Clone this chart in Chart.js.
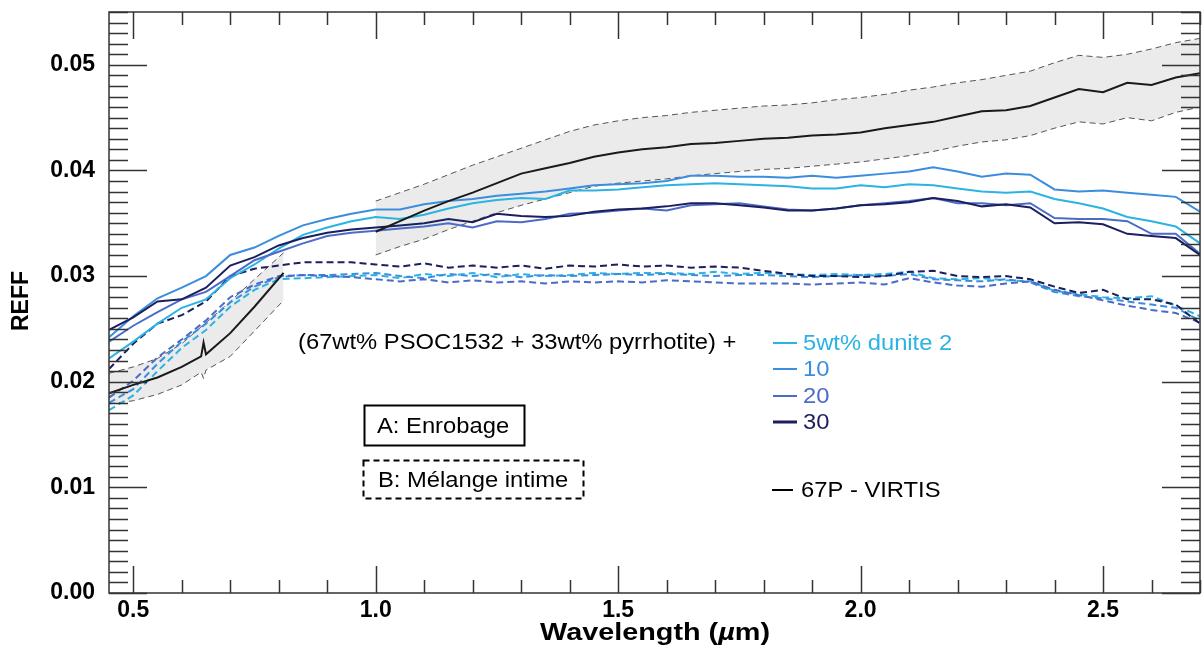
<!DOCTYPE html>
<html>
<head>
<meta charset="utf-8">
<script src="https://cdn.jsdelivr.net/npm/chart.js@4.4.1/dist/chart.umd.min.js"></script>
<style>
  html, body { margin: 0; padding: 0; background: #fff; }
</style>
</head>
<body>
<canvas id="reffChart" width="1204" height="651"></canvas>
<script>
// lab spectra grid (µm)
const wavelengths = [0.45, 0.50, 0.55, 0.60, 0.65, 0.70, 0.75, 0.80, 0.85, 0.90,
  0.95, 1.00, 1.05, 1.10, 1.15, 1.20, 1.25, 1.30, 1.35, 1.40,
  1.45, 1.50, 1.55, 1.60, 1.65, 1.70, 1.75, 1.80, 1.85, 1.90,
  1.95, 2.00, 2.05, 2.10, 2.15, 2.20, 2.25, 2.30, 2.35, 2.40,
  2.45, 2.50, 2.55, 2.60, 2.65, 2.70];

// A: Enrobage (solid)
const coat5 = [0.0222, 0.0238, 0.0255, 0.0270, 0.0278, 0.0298, 0.0311, 0.0326, 0.0339, 0.0346,
  0.0352, 0.0356, 0.0354, 0.0358, 0.0364, 0.0369, 0.0372, 0.0374, 0.0373, 0.0381,
  0.0381, 0.0382, 0.0384, 0.0386, 0.0387, 0.0388, 0.0387, 0.0386, 0.0385, 0.0383,
  0.0383, 0.0386, 0.0384, 0.0387, 0.0386, 0.0383, 0.0380, 0.0379, 0.0380, 0.0373,
  0.0369, 0.0364, 0.0356, 0.0352, 0.0347, 0.0331];
const coat10 = [0.0242, 0.0262, 0.0279, 0.0289, 0.0300, 0.0320, 0.0327, 0.0338, 0.0348, 0.0354,
  0.0359, 0.0363, 0.0363, 0.0368, 0.0371, 0.0373, 0.0376, 0.0378, 0.0380, 0.0383,
  0.0386, 0.0387, 0.0388, 0.0390, 0.0395, 0.0395, 0.0394, 0.0394, 0.0393, 0.0395,
  0.0393, 0.0395, 0.0397, 0.0399, 0.0403, 0.0399, 0.0394, 0.0397, 0.0396, 0.0382,
  0.0380, 0.0381, 0.0379, 0.0377, 0.0375, 0.0361];
const coat20 = [0.0238, 0.0253, 0.0266, 0.0278, 0.0285, 0.0300, 0.0315, 0.0323, 0.0331, 0.0338,
  0.0341, 0.0343, 0.0345, 0.0347, 0.0350, 0.0346, 0.0352, 0.0351, 0.0354, 0.0359,
  0.0360, 0.0362, 0.0364, 0.0362, 0.0367, 0.0368, 0.0369, 0.0366, 0.0363, 0.0362,
  0.0364, 0.0367, 0.0369, 0.0371, 0.0374, 0.0369, 0.0369, 0.0367, 0.0369, 0.0355,
  0.0354, 0.0354, 0.0352, 0.0340, 0.0340, 0.0321];
const coat30 = [0.0249, 0.0261, 0.0276, 0.0278, 0.0289, 0.0310, 0.0318, 0.0329, 0.0336, 0.0341,
  0.0344, 0.0346, 0.0348, 0.0350, 0.0354, 0.0351, 0.0359, 0.0357, 0.0356, 0.0357,
  0.0361, 0.0363, 0.0364, 0.0366, 0.0369, 0.0369, 0.0367, 0.0365, 0.0362, 0.0362,
  0.0364, 0.0367, 0.0368, 0.0370, 0.0374, 0.0371, 0.0366, 0.0368, 0.0365, 0.0350,
  0.0351, 0.0349, 0.0340, 0.0338, 0.0336, 0.0320];

// B: Mélange intime (dashed)
const mix5 = [0.0173, 0.0187, 0.0210, 0.0232, 0.0249, 0.0271, 0.0287, 0.0297, 0.0298, 0.0299,
  0.0300, 0.0301, 0.0298, 0.0302, 0.0300, 0.0303, 0.0299, 0.0302, 0.0300, 0.0301,
  0.0303, 0.0302, 0.0303, 0.0303, 0.0302, 0.0304, 0.0302, 0.0303, 0.0302, 0.0301,
  0.0302, 0.0301, 0.0302, 0.0304, 0.0298, 0.0297, 0.0298, 0.0296, 0.0295, 0.0286,
  0.0283, 0.0280, 0.0279, 0.0281, 0.0272, 0.0262];
const mix10 = [0.0180, 0.0193, 0.0217, 0.0238, 0.0255, 0.0275, 0.0290, 0.0299, 0.0301, 0.0301,
  0.0302, 0.0303, 0.0300, 0.0298, 0.0302, 0.0300, 0.0302, 0.0299, 0.0301, 0.0300,
  0.0301, 0.0302, 0.0301, 0.0302, 0.0301, 0.0300, 0.0301, 0.0301, 0.0300, 0.0299,
  0.0300, 0.0301, 0.0300, 0.0302, 0.0297, 0.0296, 0.0295, 0.0297, 0.0294, 0.0285,
  0.0281, 0.0279, 0.0276, 0.0273, 0.0270, 0.0258];
const mix20 = [0.0185, 0.0201, 0.0223, 0.0240, 0.0258, 0.0280, 0.0292, 0.0300, 0.0301, 0.0300,
  0.0299, 0.0297, 0.0295, 0.0297, 0.0294, 0.0296, 0.0294, 0.0295, 0.0293, 0.0295,
  0.0294, 0.0295, 0.0294, 0.0296, 0.0295, 0.0294, 0.0293, 0.0293, 0.0293, 0.0292,
  0.0293, 0.0294, 0.0292, 0.0298, 0.0294, 0.0291, 0.0290, 0.0293, 0.0295, 0.0287,
  0.0282, 0.0277, 0.0272, 0.0268, 0.0265, 0.0256];
const mix30 = [0.0212, 0.0236, 0.0255, 0.0263, 0.0276, 0.0300, 0.0307, 0.0310, 0.0313, 0.0313,
  0.0313, 0.0311, 0.0309, 0.0312, 0.0308, 0.0310, 0.0308, 0.0310, 0.0307, 0.0310,
  0.0309, 0.0311, 0.0309, 0.0310, 0.0308, 0.0309, 0.0308, 0.0305, 0.0302, 0.0300,
  0.0300, 0.0299, 0.0300, 0.0304, 0.0305, 0.0300, 0.0299, 0.0300, 0.0297, 0.0290,
  0.0284, 0.0287, 0.0278, 0.0278, 0.0273, 0.0255];

// 67P - VIRTIS, visible channel
const visWl = [0.45, 0.50, 0.55, 0.60, 0.64, 0.645, 0.65, 0.70, 0.75, 0.81];
const visReff = [0.0189, 0.0197, 0.0204, 0.0214, 0.0224, 0.0237, 0.0226, 0.0246, 0.0271, 0.0303];
const visUpper = [0.0208, 0.0214, 0.0222, 0.0236, 0.0252, 0.0254, 0.0256, 0.0276, 0.0297, 0.0322];
const visLower = [0.0179, 0.0182, 0.0188, 0.0197, 0.0209, 0.0203, 0.0211, 0.0224, 0.0248, 0.0277];

// 67P - VIRTIS, IR channel
const irWl = [1.00, 1.05, 1.10, 1.15, 1.20, 1.25, 1.30, 1.35, 1.40, 1.45,
  1.50, 1.55, 1.60, 1.65, 1.70, 1.75, 1.80, 1.85, 1.90, 1.95,
  2.00, 2.05, 2.10, 2.15, 2.20, 2.25, 2.30, 2.35, 2.40, 2.45,
  2.50, 2.55, 2.60, 2.65, 2.70];
const irReff = [0.0342, 0.0352, 0.0362, 0.0371, 0.0379, 0.0388, 0.0397, 0.0402, 0.0407, 0.0413,
  0.0417, 0.0420, 0.0422, 0.0425, 0.0426, 0.0428, 0.0430, 0.0431, 0.0433, 0.0434,
  0.0436, 0.0440, 0.0443, 0.0446, 0.0451, 0.0456, 0.0457, 0.0461, 0.0469, 0.0477,
  0.0474, 0.0483, 0.0481, 0.0488, 0.0492];
const irUpper = [0.0371, 0.0379, 0.0387, 0.0396, 0.0405, 0.0413, 0.0421, 0.0429, 0.0437, 0.0443,
  0.0447, 0.0450, 0.0452, 0.0455, 0.0457, 0.0459, 0.0461, 0.0462, 0.0464, 0.0467,
  0.0469, 0.0472, 0.0476, 0.0479, 0.0483, 0.0486, 0.0490, 0.0494, 0.0502, 0.0509,
  0.0507, 0.0510, 0.0515, 0.0521, 0.0525];
const irLower = [0.0320, 0.0328, 0.0335, 0.0344, 0.0352, 0.0360, 0.0367, 0.0373, 0.0379, 0.0385,
  0.0388, 0.0390, 0.0392, 0.0395, 0.0397, 0.0399, 0.0401, 0.0402, 0.0404, 0.0406,
  0.0408, 0.0411, 0.0414, 0.0418, 0.0423, 0.0427, 0.0429, 0.0433, 0.0440, 0.0446,
  0.0444, 0.0450, 0.0447, 0.0455, 0.0460];

const xTicks = [0.5, 1.0, 1.5, 2.0, 2.5];
const xTickLabels = ['0.5', '1.0', '1.5', '2.0', '2.5'];
const yTicks = [0, 0.01, 0.02, 0.03, 0.04, 0.05];
const yTickLabels = ['0.00', '0.01', '0.02', '0.03', '0.04', '0.05'];

const seriesNames = ['5wt% dunite 2', '10', '20', '30'];
const seriesColors = ['#2ab3e3', '#3a8edd', '#4b6bc8', '#1c1f5e'];

const FONT = '"Liberation Sans", Arial, Helvetica, sans-serif';

function pts(xs, ys) {
  return xs.map((v, i) => ({ x: v, y: ys[i] }));
}

const datasets = [];
// grey VIRTIS envelope
[[visWl, visUpper, visLower], [irWl, irUpper, irLower]].forEach(([wl, up, lo]) => {
  const idx = datasets.length;
  datasets.push({ data: pts(wl, up), borderColor: '#555', borderWidth: 1, borderDash: [6, 4],
    fill: { target: idx + 1 }, backgroundColor: '#ebebeb', order: 20 });
  datasets.push({ data: pts(wl, lo), borderColor: '#555', borderWidth: 1, borderDash: [6, 4],
    fill: false, order: 19 });
});
[mix5, mix10, mix20, mix30].forEach((s, i) => {
  datasets.push({ data: pts(wavelengths, s), borderColor: seriesColors[i], borderWidth: 2,
    borderDash: [7, 4], fill: false, order: 10 - i });
});
[coat5, coat10, coat20, coat30].forEach((s, i) => {
  datasets.push({ data: pts(wavelengths, s), borderColor: seriesColors[i], borderWidth: 2,
    fill: false, order: 6 - i });
});
datasets.push({ data: pts(visWl, visReff), borderColor: '#1a1a1a', borderWidth: 2, fill: false, order: 1 });
datasets.push({ data: pts(irWl, irReff), borderColor: '#1a1a1a', borderWidth: 2, fill: false, order: 1 });

function stretchText(ctx, str, x, y, sx) {
  ctx.save();
  ctx.translate(x, y);
  ctx.scale(sx, 1);
  ctx.fillText(str, 0, 0);
  ctx.restore();
}

const idlFrame = {
  id: 'idlFrame',
  afterDraw(chart) {
    const { ctx, chartArea: a, scales: { x, y } } = chart;
    ctx.save();
    ctx.strokeStyle = '#333';
    ctx.lineWidth = 1.5;
    ctx.strokeRect(a.left, a.top, a.right - a.left, a.bottom - a.top);
    ctx.beginPath();
    for (let i = 0; i <= 22; i++) {
      const v = 0.5 + i * 0.1;
      const len = i % 5 === 0 ? 27 : 13;
      const px = Math.round(x.getPixelForValue(v)) + 0.5;
      ctx.moveTo(px, a.bottom); ctx.lineTo(px, a.bottom - len);
      ctx.moveTo(px, a.top); ctx.lineTo(px, a.top + len);
    }
    for (let i = 0; i <= 55; i++) {
      const v = i * 0.001;
      const len = i % 10 === 0 ? 38 : 19;
      const py = Math.round(y.getPixelForValue(v)) + 0.5;
      ctx.moveTo(a.left, py); ctx.lineTo(a.left + len, py);
      ctx.moveTo(a.right, py); ctx.lineTo(a.right - len, py);
    }
    ctx.stroke();
    ctx.restore();
  }
};

const annotations = {
  id: 'annotations',
  afterDraw(chart) {
    const ctx = chart.ctx;
    ctx.save();
    ctx.textBaseline = 'middle';
    ctx.textAlign = 'left';
    ctx.fillStyle = '#000';
    ctx.font = '22px ' + FONT;
    stretchText(ctx, '(67wt% PSOC1532 + 33wt% pyrrhotite) +', 298, 343, 1.08);

    const rows = [343, 369, 396, 422];
    seriesNames.forEach((name, i) => {
      ctx.strokeStyle = seriesColors[i];
      ctx.lineWidth = i === 3 ? 3 : 2;
      ctx.beginPath(); ctx.moveTo(773, rows[i]); ctx.lineTo(797, rows[i]); ctx.stroke();
      ctx.fillStyle = seriesColors[i];
      stretchText(ctx, name, 803, rows[i] + 1, 1.08);
    });

    ctx.strokeStyle = '#000';
    ctx.lineWidth = 2;
    ctx.beginPath(); ctx.moveTo(772, 490); ctx.lineTo(793, 490); ctx.stroke();
    ctx.fillStyle = '#000';
    stretchText(ctx, '67P - VIRTIS', 801, 491, 1.08);

    // A / B boxes
    ctx.strokeRect(364.5, 405.5, 160, 40);
    stretchText(ctx, 'A: Enrobage', 377, 427, 1.08);
    ctx.setLineDash([6, 4]);
    ctx.strokeRect(363.5, 460.5, 220, 38);
    ctx.setLineDash([]);
    stretchText(ctx, 'B: Mélange intime', 378, 481, 1.08);

    // axis titles
    ctx.font = 'bold 23px ' + FONT;
    ctx.save();
    ctx.translate(21, 301);
    ctx.rotate(-Math.PI / 2);
    ctx.scale(1, 1.08);
    ctx.textAlign = 'center';
    ctx.fillText('REFF', 0, 0);
    ctx.restore();

    const sx = 1.2;
    const parts = [['Wavelength (', 'bold 24px '], ['\u00b5', 'italic bold 24px '], ['m)', 'bold 24px ']];
    let total = 0;
    parts.forEach(p => { ctx.font = p[1] + FONT; total += ctx.measureText(p[0]).width * sx; });
    let cx = 655 - total / 2;
    parts.forEach(p => {
      ctx.font = p[1] + FONT;
      stretchText(ctx, p[0], cx, 633, sx);
      cx += ctx.measureText(p[0]).width * sx;
    });
    ctx.restore();
  }
};

new Chart(document.getElementById('reffChart'), {
  type: 'line',
  data: { datasets },
  options: {
    responsive: false,
    animation: false,
    elements: { point: { radius: 0 }, line: { tension: 0 } },
    layout: { padding: { left: 0, right: 4, top: 12, bottom: 0 } },
    plugins: { legend: { display: false }, tooltip: { enabled: false } },
    scales: {
      x: {
        type: 'linear', min: 0.45, max: 2.7,
        grid: { display: false, drawTicks: false },
        border: { display: false },
        afterBuildTicks: s => { s.ticks = xTicks.map(v => ({ value: v })); },
        afterFit: s => { s.height = 58; s.paddingLeft = 0; s.paddingRight = 0; },
        ticks: {
          padding: 4, color: '#000', maxRotation: 0, autoSkip: false,
          font: { family: FONT, size: 23, weight: 'bold' },
          callback: (v) => xTickLabels[xTicks.findIndex(t => Math.abs(t - v) < 1e-9)]
        }
      },
      y: {
        type: 'linear', min: 0, max: 0.055,
        grid: { display: false, drawTicks: false },
        border: { display: false },
        afterBuildTicks: s => { s.ticks = yTicks.map(v => ({ value: v })); },
        afterFit: s => { s.width = 109; s.paddingTop = 0; s.paddingBottom = 0; },
        ticks: {
          padding: 14, color: '#000', autoSkip: false,
          font: { family: FONT, size: 23, weight: 'bold' },
          callback: (v) => yTickLabels[yTicks.findIndex(t => Math.abs(t - v) < 1e-9)]
        }
      }
    }
  },
  plugins: [idlFrame, annotations]
});
</script>
</body>
</html>
